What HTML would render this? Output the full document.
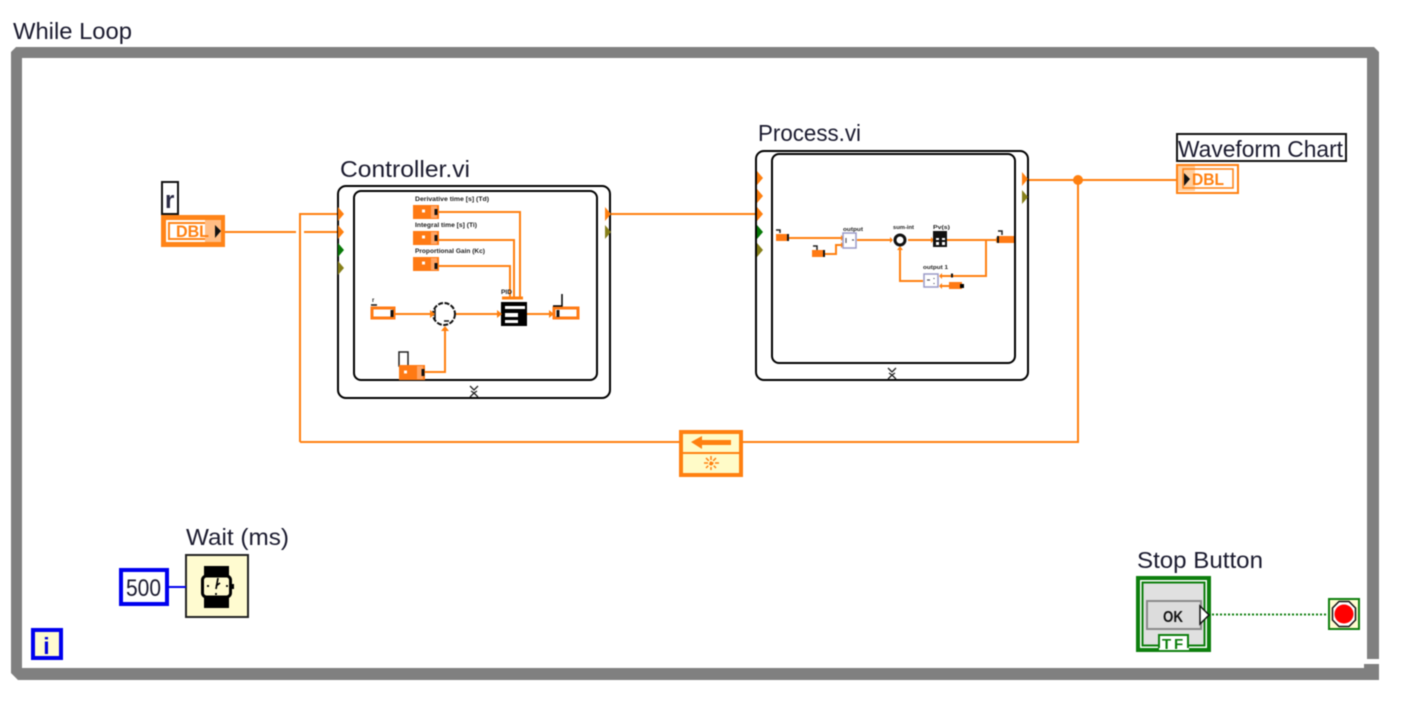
<!DOCTYPE html>
<html><head><meta charset="utf-8"><style>
html,body{margin:0;padding:0;background:#fff;width:1402px;height:708px;overflow:hidden}
svg{display:block;filter:blur(.45px)}
text{font-family:"Liberation Sans",sans-serif;fill:#1a1a2e}
.w{fill:none;stroke:#ff8010;stroke-width:2}
.k{fill:none;stroke:#000;stroke-width:2}
.o{fill:#ff7a14}
.tiny{font-size:6px;fill:#222;font-weight:bold}
.chev{fill:none;stroke:#222;stroke-width:1.300}
</style></head><body>
<svg width="1402" height="708" viewBox="0 0 1402 708" xmlns="http://www.w3.org/2000/svg">
<!-- Loop frame -->
<path d="M16 47H1374L1379 52V659H1367V58H22V668H1364V664H1379V680H18L11 673V52Z" fill="#808080"/>
<text x="13" y="39" font-size="23" textLength="119" lengthAdjust="spacingAndGlyphs">While Loop</text>

<!-- main wires -->
<path class="w" d="M224 232H296M304 232H338M300 442V214H338M611 214H756M1029 180H1177M1078 180V442H743M680 442H300"/>
<circle cx="1078" cy="180" r="5" fill="#ff8010"/>

<!-- r control -->
<rect x="162" y="182" width="16" height="32" fill="#fff" stroke="#111" stroke-width="2"/>
<text x="165" y="208" font-size="24" font-weight="bold" style="fill:#2a2a44">r</text>
<rect x="161" y="215" width="64" height="32" fill="#ff8418"/>
<rect x="166" y="220" width="55" height="22" fill="#fff"/>
<rect x="169" y="223" width="48" height="16" fill="#fff" stroke="#ff8418" stroke-width="2"/>
<rect x="205" y="220" width="16" height="22" fill="#ffbd85"/>
<text x="176" y="237" font-size="17" font-weight="bold" textLength="33" lengthAdjust="spacingAndGlyphs" style="fill:#ff8010">DBL</text>
<path d="M215 225l6 6-6 7Z" fill="#111"/>

<!-- Controller -->
<text x="340" y="177" font-size="23" textLength="130" lengthAdjust="spacingAndGlyphs">Controller.vi</text>
<rect x="338" y="186" width="272" height="212" rx="8" fill="#fff" class="k"/>
<rect x="354" y="191" width="243" height="189" rx="7" fill="#fff" class="k"/>
<path d="M338 207l6 7-6 7ZM338 225l6 7-6 7Z" fill="#ff8010"/>
<path d="M338 243l6 7-6 7Z" fill="#087a08"/>
<path d="M338 261l6 7-6 7Z" fill="#87801a"/>
<path d="M605 207l6 7-6 7Z" fill="#ff8010"/>
<path d="M605 225l6 7-6 7Z" fill="#87801a"/>
<text x="415" y="201" class="tiny" textLength="74" lengthAdjust="spacingAndGlyphs">Derivative time [s] (Td)</text>
<text x="415" y="227" class="tiny" textLength="62" lengthAdjust="spacingAndGlyphs">Integral time [s] (Ti)</text>
<text x="415" y="253" class="tiny" textLength="70" lengthAdjust="spacingAndGlyphs">Proportional Gain (Kc)</text>
<rect class="o" x="413" y="205" width="26" height="14"/>
<rect class="o" x="413" y="231" width="26" height="14"/>
<rect class="o" x="413" y="257" width="26" height="14"/>
<rect x="431" y="206" width="6" height="12" fill="#ffa565"/>
<rect x="431" y="232" width="6" height="12" fill="#ffa565"/>
<rect x="431" y="258" width="6" height="12" fill="#ffa565"/>
<path d="M436 209v6M436 235v6M436 263v6" stroke="#111" stroke-width="3"/>
<path d="M422 211h3M422 237h3M422 263h3" stroke="#fff" stroke-width="3"/>
<path class="w" d="M439 212H520V298M439 240H514V298M439 266H510V298"/>
<path d="M502 298H523" stroke="#ff8010" stroke-width="3"/>
<!-- PID -->
<rect x="501" y="302" width="26" height="24" fill="#000"/>
<rect x="505" y="306" width="20" height="3" fill="#fff"/>
<rect x="505" y="313" width="13" height="4" fill="#fff"/>
<rect x="505" y="320" width="13" height="3" fill="#fff"/>
<text x="501" y="294" class="tiny" textLength="11" lengthAdjust="spacingAndGlyphs">PID</text>
<!-- sum -->
<circle cx="444" cy="314" r="11" fill="#fff" stroke="#111" stroke-width="2" stroke-dasharray="5 1.500"/>
<path d="M435 309v10M444 321h5" stroke="#111" stroke-width="1.500"/>
<!-- SP -->
<rect x="372" y="308" width="22" height="10" fill="#fff" stroke="#ff7a14" stroke-width="3"/>
<path d="M392 310v7" stroke="#111" stroke-width="3"/>
<path d="M371 305h6" stroke="#111" stroke-width="1.500"/>
<text x="372" y="302" class="tiny">r</text>
<path class="w" d="M395 314H431M456 314H501M527 314H551"/>
<path d="M430 310l5 4-5 4ZM497 310l5 4-5 4ZM549 310l5 4-5 4Z" fill="#ff8010"/>
<!-- out -->
<rect x="554" y="308" width="24" height="10" fill="#fff" stroke="#ff7a14" stroke-width="3"/>
<path d="M558 310v7" stroke="#111" stroke-width="3"/>
<path d="M553 306H562V294" fill="none" stroke="#000" stroke-width="1.500"/>
<!-- y -->
<rect x="399" y="352" width="9" height="14" fill="#fff" stroke="#222" stroke-width="1.500"/>
<rect class="o" x="399" y="365" width="26" height="15"/>
<rect x="417" y="366" width="6" height="13" fill="#ffa565"/>
<path d="M423 369v7" stroke="#111" stroke-width="3"/>
<path d="M404 372h3" stroke="#fff" stroke-width="3"/>
<path class="w" d="M425 372H445V330"/>
<path d="M441 331l4-5 4 5Z" fill="#ff8010"/>
<path class="chev" d="M470 386l4 4 4-4M470 397l4-4 4 4M470 390h0M471 391l3 2 3-2"/>

<!-- Process -->
<text x="758" y="141" font-size="23" textLength="103" lengthAdjust="spacingAndGlyphs">Process.vi</text>
<rect x="756" y="151" width="272" height="229" rx="8" fill="#fff" class="k"/>
<rect x="772" y="154" width="243" height="209" rx="7" fill="#fff" class="k"/>
<path d="M757 171l6 7-6 7ZM757 189l6 7-6 7ZM757 207l6 7-6 7Z" fill="#ff8010"/>
<path d="M757 225l6 7-6 7Z" fill="#087a08"/>
<path d="M757 243l6 7-6 7Z" fill="#87801a"/>
<path d="M1022 172l6 7-6 7Z" fill="#ff8010"/>
<path d="M1022 190l6 7-6 7Z" fill="#87801a"/>
<path class="w" d="M789 238H843M825 254H836V245H843M857 240H892M908 240H933M947 240H998M986 240V276H940M900 248V281H923M940 286H950"/>
<path d="M841 235l3 3-3 3ZM841 242l3 3-3 3ZM931 237l3 3-3 3ZM996 237l3 3-3 3ZM942 273l-3 3 3 3ZM942 283l-3 3 3 3ZM890 237l3 3-3 3ZM897 250l3-4 3 4Z" fill="#ff8010"/>
<rect class="o" x="776" y="234" width="13" height="7"/>
<rect class="o" x="812" y="250" width="13" height="7"/>
<rect class="o" x="997" y="236" width="17" height="7"/>
<rect class="o" x="949" y="282" width="13" height="7"/>
<path d="M788 234v7M824 250v7M998 236v7" stroke="#111" stroke-width="2"/>
<rect x="960" y="284" width="4" height="4" fill="#000"/>
<rect x="951" y="273.500" width="2" height="4" fill="#111"/>
<path d="M776 230h4v3M813 246h4v4M998 231h4v4" stroke="#222" fill="none" stroke-width="1.500"/>
<rect x="843" y="233" width="13" height="15" fill="#fff" stroke="#9a9ac8" stroke-width="1.500"/>
<rect x="924" y="274" width="14" height="13" fill="#fff" stroke="#9a9ac8" stroke-width="1.500"/>
<path d="M846 238v5M852 240h2M927 280h3M934 278v1M934 283v1" stroke="#556" stroke-width="1.200"/>
<circle cx="900" cy="240" r="5" fill="#fff" stroke="#111" stroke-width="3"/>
<rect x="933" y="231" width="14" height="16" fill="#111"/>
<path d="M936 238h3v2h-3ZM942 238h3v2h-3ZM936 242h3v3h-3ZM942 242h3v3h-3Z" fill="#fff"/>
<text x="843" y="231" class="tiny" style="font-size:5px" textLength="20" lengthAdjust="spacingAndGlyphs">output</text>
<text x="893" y="229" class="tiny" style="font-size:5px" textLength="21" lengthAdjust="spacingAndGlyphs">sum-int</text>
<text x="933" y="229" class="tiny" style="font-size:5px" textLength="17" lengthAdjust="spacingAndGlyphs">Pv(s)</text>
<text x="923" y="269" class="tiny" style="font-size:5px" textLength="25" lengthAdjust="spacingAndGlyphs">output 1</text>
<path class="chev" d="M888 368l4 4 4-4M888 379l4-4 4 4M889 373l3 2 3-2"/>

<!-- Waveform chart -->
<rect x="1177" y="134" width="169" height="27" fill="#fff" stroke="#111" stroke-width="2"/>
<text x="1178" y="157" font-size="23" textLength="165" lengthAdjust="spacingAndGlyphs">Waveform Chart</text>
<rect x="1177" y="165" width="61" height="28" fill="#fff" stroke="#ff8010" stroke-width="2"/>
<rect x="1178" y="166" width="17" height="25" fill="#ffcf9f"/>
<rect x="1183" y="169" width="50" height="19" fill="none" stroke="#ff8010" stroke-width="1.500"/>
<path d="M1184 173l6 6-6 7Z" fill="#111"/>
<text x="1192" y="185" font-size="17" font-weight="bold" textLength="32" lengthAdjust="spacingAndGlyphs" style="fill:#ff8010">DBL</text>

<!-- feedback node -->
<rect x="681" y="432" width="60" height="43" fill="#fffbc8" stroke="#ff8010" stroke-width="4"/>
<path d="M680 453H743" stroke="#ff8010" stroke-width="2"/>
<path d="M691 442l11-6v4h29v5h-29v4Z" fill="#ff8010"/>
<path d="M711 456v14M704 463h15M706 458l10 10M716 458l-10 10" stroke="#ff8010" stroke-width="1.500" stroke-dasharray="4 1.500"/>

<!-- Wait -->
<text x="186" y="545" font-size="23" textLength="103" lengthAdjust="spacingAndGlyphs">Wait (ms)</text>
<rect x="186" y="555" width="62" height="62" fill="#fffbd0" stroke="#222" stroke-width="2"/>
<rect x="204" y="566" width="25" height="42" fill="#000"/>
<rect x="202.500" y="576" width="28" height="21" rx="4" fill="#fffbd0" stroke="#000" stroke-width="3"/>
<rect x="231" y="584" width="3" height="5" fill="#000"/>
<path d="M218 578l-2 11M216 586l4-3M207 586h2M226 586h2M216 593v2" stroke="#000" stroke-width="1.700"/>
<rect x="121" y="570" width="46" height="34" fill="#fff" stroke="#0000ee" stroke-width="4"/>
<text x="126" y="596" font-size="24" textLength="35" lengthAdjust="spacingAndGlyphs">500</text>
<path d="M169 587H186" stroke="#0000ee" stroke-width="2"/>

<!-- i -->
<rect x="33" y="630" width="28" height="28" fill="#fffbd0" stroke="#0000ee" stroke-width="4"/>
<text x="46.500" y="654" font-size="23" font-weight="bold" text-anchor="middle" style="fill:#0000dd">i</text>

<!-- Stop -->
<text x="1137" y="568" font-size="23" textLength="126" lengthAdjust="spacingAndGlyphs">Stop Button</text>
<rect x="1136" y="576" width="75" height="76" fill="#0d7f0d"/>
<rect x="1140" y="580" width="67" height="68" fill="#fff"/>
<rect x="1142.500" y="582.500" width="62" height="63" fill="#e0e0e0" stroke="#0d7f0d" stroke-width="2"/>
<rect x="1147" y="601" width="54" height="28" fill="#dcdcdc" stroke="#8a8a8a" stroke-width="2"/>
<text x="1163" y="622" font-size="16" font-weight="bold" textLength="20" lengthAdjust="spacingAndGlyphs" style="fill:#111">OK</text>
<path d="M1200 606l9 9-9 9Z" fill="#fff" stroke="#111" stroke-width="1.500"/>
<rect x="1159" y="635" width="29" height="15" fill="#fff" stroke="#0d7f0d" stroke-width="2"/>
<rect x="1159" y="648" width="30" height="2" fill="#fff"/>
<text x="1162" y="649" font-size="15" font-weight="bold" style="fill:#0d7f0d">T</text>
<text x="1174" y="649" font-size="15" font-weight="bold" style="fill:#0d7f0d">F</text>
<path d="M1212 614.500H1328" stroke="#0d7f0d" stroke-width="2" stroke-dasharray="2 2"/>
<rect x="1329" y="599" width="30" height="30" fill="#fffbd0" stroke="#0d7f0d" stroke-width="2"/>
<path d="M1339 601.500h10l6.500 6.500v12l-6.500 6.500h-10l-6.500-6.500v-12Z" fill="#fff" stroke="#111" stroke-width="1.500"/>
<circle cx="1344" cy="614" r="9.500" fill="#f00"/>
</svg>
</body></html>
